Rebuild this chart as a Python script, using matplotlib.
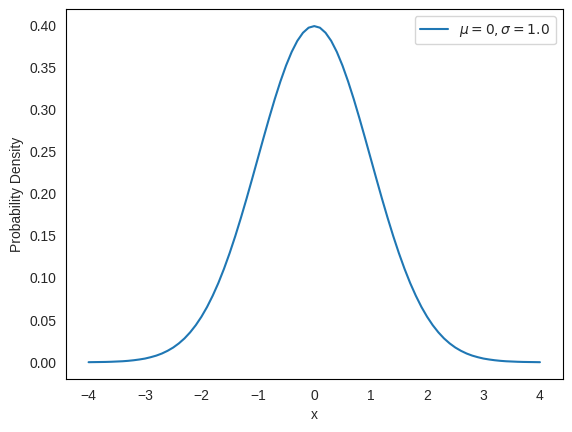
import numpy as np
import matplotlib
matplotlib.use('Agg')
import matplotlib.pyplot as plt
import seaborn as sns

# x grid and density values
x_vals = np.linspace(-4, 4, 81)
pdf_vals = [
    0.0001, 0.0002, 0.0003, 0.0004, 0.0006, 0.0009, 0.0012, 0.0017, 0.0024, 0.0033,
    0.0044, 0.0060, 0.0079, 0.0104, 0.0136, 0.0175, 0.0224, 0.0283, 0.0355, 0.0440,
    0.0540, 0.0656, 0.0790, 0.0940, 0.1109, 0.1295, 0.1497, 0.1714, 0.1942, 0.2179,
    0.2420, 0.2661, 0.2897, 0.3123, 0.3332, 0.3521, 0.3683, 0.3814, 0.3910, 0.3970,
    0.3989,
    0.3970, 0.3910, 0.3814, 0.3683, 0.3521, 0.3332, 0.3123, 0.2897, 0.2661, 0.2420,
    0.2179, 0.1942, 0.1714, 0.1497, 0.1295, 0.1109, 0.0940, 0.0790, 0.0656, 0.0540,
    0.0440, 0.0355, 0.0283, 0.0224, 0.0175, 0.0136, 0.0104, 0.0079, 0.0060, 0.0044,
    0.0033, 0.0024, 0.0017, 0.0012, 0.0009, 0.0006, 0.0004, 0.0003, 0.0002, 0.0001,
]
series_label = r'$\mu = 0, \sigma = 1.0$'

sns.set_style('white')
plt.rcParams['font.family'] = ['Liberation Sans', 'DejaVu Sans']
plt.rcParams['axes.edgecolor'] = 'black'

fig, ax = plt.subplots(figsize=(5.72, 4.32), dpi=100)
fig.subplots_adjust(left=0.1154, right=0.9834, bottom=0.1227, top=0.9785)

ax.plot(x_vals, pdf_vals, color='#1f77b4', label=series_label)
ax.set_xlabel('x')
ax.set_ylabel('Probability Density')
ax.set_yticks([0.0, 0.05, 0.10, 0.15, 0.20, 0.25, 0.30, 0.35, 0.40])
ax.set_yticklabels(['0.00', '0.05', '0.10', '0.15', '0.20', '0.25', '0.30', '0.35', '0.40'])
ax.legend()

fig.savefig('out.png', dpi=100)
